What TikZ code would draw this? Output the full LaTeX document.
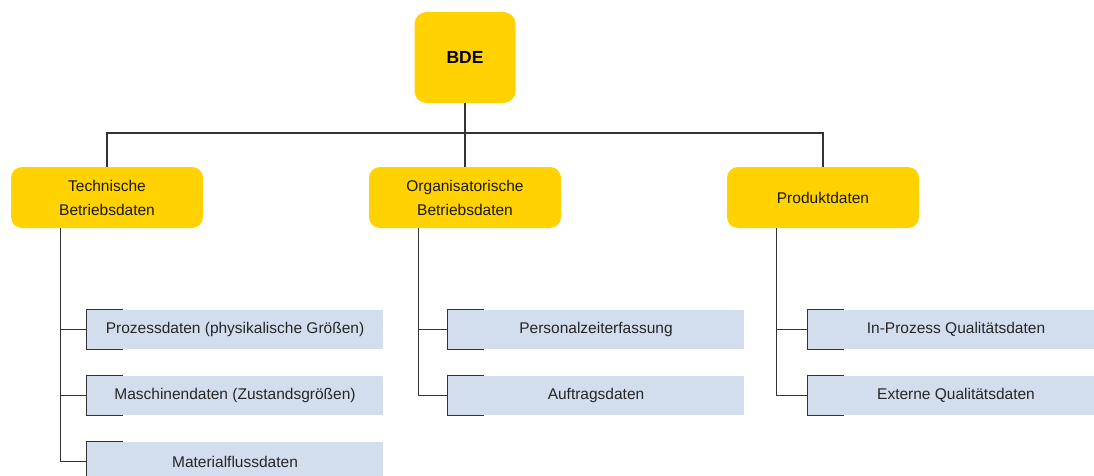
\documentclass[tikz,border=0pt]{standalone}
\usepackage{fontspec}
\setmainfont{Liberation Sans}
\begin{document}
\definecolor{gold}{HTML}{FFD200}
\definecolor{leaffill}{HTML}{D2DEEE}
\definecolor{wire}{HTML}{333333}
\begin{tikzpicture}[x=1pt,y=-1pt,
  rootbox/.style={fill=gold, rounded corners=12pt, minimum width=101pt, minimum height=91pt,
    inner sep=0pt, font=\fontsize{17.5}{20}\selectfont\bfseries, text=black},
  catbox/.style={fill=gold, rounded corners=11pt, minimum width=192pt, minimum height=61pt,
    inner sep=0pt, align=center, font=\fontsize{15.5}{24}\selectfont, text=black!90},
  leafbox/.style={fill=leaffill, minimum width=296pt, minimum height=39pt,
    inner sep=0pt, font=\fontsize{15.5}{18}\selectfont, text=black!85},
  wire/.style={draw=wire, line width=1.2pt},
  bracket/.style={draw=wire, line width=1.3pt}]
\clip (0,0) rectangle (1094,476);
\useasboundingbox (0,0) rectangle (1094,476);

% root and categories
\node[rootbox] (bde) at (465,57.5) {BDE};
\node[catbox] (tech) at (107,197.5) {Technische\\Betriebsdaten};
\node[catbox] (orga) at (465,197.5) {Organisatorische\\Betriebsdaten};
\node[catbox] (prod) at (823,197.5) {Produktdaten};

% leaves
\node[leafbox] (t1) at (235,329.5) {Prozessdaten (physikalische Größen)};
\node[leafbox] (t2) at (235,395.5) {Maschinendaten (Zustandsgrößen)};
\node[leafbox] (t3) at (235,461.5) {Materialflussdaten};
\node[leafbox] (o1) at (596,329.5) {Personalzeiterfassung};
\node[leafbox] (o2) at (596,395.5) {Auftragsdaten};
\node[leafbox] (p1) at (956,329.5) {In-Prozess Qualitätsdaten};
\node[leafbox] (p2) at (956,395.5) {Externe Qualitätsdaten};

% brackets on the left edge of each leaf
\foreach \n in {t1,t2,t3,o1,o2,p1,p2}{
  \draw[bracket] ([xshift=36pt]\n.north west) -- (\n.north west) -- (\n.south west) -- ([xshift=36pt]\n.south west);
}

% root to categories
\coordinate (bus) at (bde.south |- 0,133);
\draw[wire] (bde.south) -- (bus);
\draw[wire] (tech.north) |- (bus) -| (prod.north);
\draw[wire] (bus) -- (orga.north);

% category trunks
\coordinate (tt) at ([xshift=50pt]tech.south west);
\coordinate (ot) at ([xshift=50pt]orga.south west);
\coordinate (pt) at ([xshift=50pt]prod.south west);
\draw[wire] (tt) |- (t3.west);
\draw[wire] (tt |- t1.west) -- (t1.west);
\draw[wire] (tt |- t2.west) -- (t2.west);
\draw[wire] (ot) |- (o2.west);
\draw[wire] (ot |- o1.west) -- (o1.west);
\draw[wire] (pt) |- (p2.west);
\draw[wire] (pt |- p1.west) -- (p1.west);
\end{tikzpicture}
\end{document}
